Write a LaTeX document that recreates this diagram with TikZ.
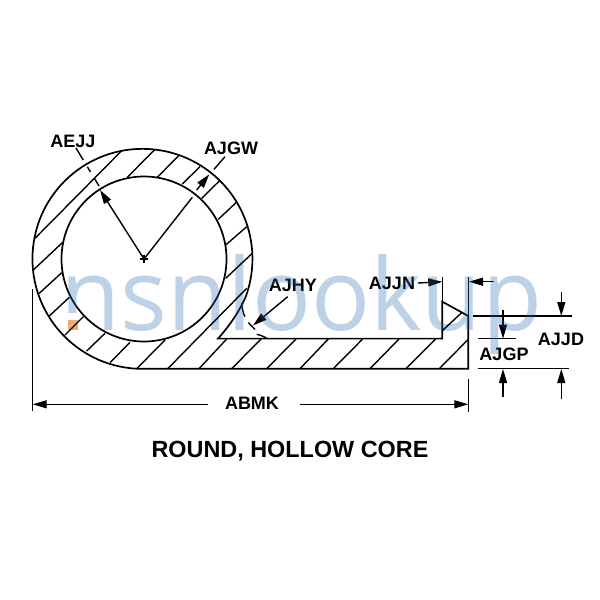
\documentclass[tikz,border=0pt]{standalone}
\usepackage{fontspec}
\setmainfont{Liberation Sans}
\newfontfamily\wmfont{Open Sans}
\usepackage{tikz}
\usetikzlibrary{positioning, arrows.meta}
\definecolor{wmblue}{RGB}{38,105,172}
\definecolor{wmorange}{RGB}{240,170,120}
\tikzset{
    profile/.style={line width=1.7pt},
    hatchline/.style={line width=1.4pt},
    dimline/.style={line width=1.4pt},
    dimarrow/.style={line width=1.4pt, -{Triangle[length=14pt, width=8pt]}},
    dimlabel/.style={font=\fontsize{18}{20}\selectfont\bfseries, inner sep=3pt},
}

\begin{document}
\begin{tikzpicture}[x=1pt, y=-1pt]
            \useasboundingbox (0, 0) rectangle (600, 600);

            \coordinate (centre) at (144, 259);
            \coordinate (heel) at (136.7, 368.7);
            \coordinate (troughL) at (218, 338.6);
            \coordinate (troughR) at (442.3, 338.6);
            \coordinate (lipTop) at (442.3, 301.7);
            \coordinate (lipTip) at (468.3, 316);
            \coordinate (toe) at (468.3, 368.7);

            % ring and strip
            \draw [profile] (centre) circle [radius=82.5pt];
            \draw [profile] (heel) arc [start angle=-93, end angle=-380, radius=110pt]
                .. controls (241, 308) and (232, 323) .. (troughL) -- (troughR) -- (lipTop) -- (lipTip) -- (toe) -- (heel);

            % labels
            \node [dimlabel] (AEJJ) at (73, 141) {AEJJ};
            \node [dimlabel] (AJGW) at (231, 148) {AJGW};
            \node [dimlabel] (AJHY) at (293, 285) {AJHY};
            \node [dimlabel] (AJJN) at (392, 283) {AJJN};
            \node [dimlabel] (AJJD) at (561, 339) {AJJD};
            \node [dimlabel] (AJGP) at (504, 354) {AJGP};
            \node [dimlabel] (ABMK) at (252, 403) {ABMK};
            \node [font=\fontsize{23.4}{26}\selectfont\bfseries] (title) at (290, 451) {ROUND, HOLLOW CORE};

            % radii
            \coordinate (boreEdge) at (100, 190);
            \coordinate (aejjTop) at (76, 148);
            \coordinate (aejjEnd) at (99, 186);
            \coordinate (wallIn) at (192.3, 197.3);
            \coordinate (wallStart) at (196.7, 190);
            \coordinate (wallTip) at (209.3, 174.3);
            \coordinate (wallOut) at (214, 169.3);
            \coordinate (wallLead) at (225, 156.7);
            \draw [dimarrow] (centre) -- (boreEdge);
            \draw [dimline, dash pattern=on 14pt off 8pt on 6pt off 7pt] (aejjTop) -- (aejjEnd);
            \draw [dimline] (centre) -- (wallIn);
            \draw [dimarrow] (wallStart) -- (wallTip);
            \draw [dimline] (wallOut) -- (wallLead);
            \draw [dimline] (140, 259) -- (148, 259) (144, 255) -- (144, 263);

            % fillet
            \coordinate (hyStart) at (287.7, 296.7);
            \coordinate (hyTip) at (253, 325.5);
            \coordinate (tickA) at (248.3, 322.5);
            \coordinate (tickB) at (255, 329.5);
            \draw [dimarrow] (hyStart) -- (hyTip);
            \draw [dimline] (tickA) -- (tickB);
            \draw [dimline] (241.7, 303) .. controls (242, 308) and (243, 313) .. (245, 316.7);
            \draw [dimline] (256.7, 334.3) .. controls (260, 335) and (264, 336.5) .. (266.7, 338.3);

            % lip width
            \coordinate (jnExt) at (442.3, 277);
            \coordinate (jnTip) at (442.3, 281.7);
            \coordinate (jrExt) at (468.3, 277);
            \coordinate (jrStart) at (494, 281.7);
            \coordinate (jrTip) at (469, 281.7);
            \draw [dimline] (jnExt) -- (lipTop);
            \draw [dimline] (jrExt) -- (lipTip);
            \draw [dimarrow] (AJJN.east) -- (jnTip);
            \draw [dimarrow] (jrStart) -- (jrTip);

            % heights
            \coordinate (jdLineL) at (473, 316);
            \coordinate (jdLineR) at (571.7, 316);
            \coordinate (jdStart) at (561.3, 291.7);
            \coordinate (jdTip) at (561.3, 316);
            \coordinate (gpLineL) at (478, 338.7);
            \coordinate (gpLineR) at (515.7, 338.7);
            \coordinate (gpStart) at (503, 310);
            \coordinate (gpTip) at (503, 338.7);
            \coordinate (baseL) at (478, 368.7);
            \coordinate (baseR) at (569, 368.7);
            \coordinate (gpUpStart) at (503, 396.7);
            \coordinate (gpUpTip) at (503, 369);
            \coordinate (jdUpStart) at (561.3, 399);
            \coordinate (jdUpTip) at (561.3, 369);
            \draw [dimline] (jdLineL) -- (jdLineR);
            \draw [dimline] (gpLineL) -- (gpLineR);
            \draw [dimline] (baseL) -- (baseR);
            \draw [dimarrow] (jdStart) -- (jdTip);
            \draw [dimarrow] (gpStart) -- (gpTip);
            \draw [dimarrow] (gpUpStart) -- (gpUpTip);
            \draw [dimarrow] (jdUpStart) -- (jdUpTip);

            % overall length
            \coordinate (mkExtLa) at (32.7, 289);
            \coordinate (mkExtLb) at (32.7, 411);
            \coordinate (mkExtRa) at (468.3, 379);
            \coordinate (mkExtRb) at (468.3, 412);
            \coordinate (mkBreakL) at (208, 404.3);
            \coordinate (mkBreakR) at (300, 404.3);
            \coordinate (mkTipL) at (32.7, 404.3);
            \coordinate (mkTipR) at (468.3, 404.3);
            \draw [dimline] (mkExtLa) -- (mkExtLb);
            \draw [dimline] (mkExtRa) -- (mkExtRb);
            \draw [dimarrow] (mkBreakL) -- (mkTipL);
            \draw [dimarrow] (mkBreakR) -- (mkTipR);

            % watermark
            \node [font=\wmfont\fontsize{100}{100}\selectfont, text=wmblue, opacity=0.3, anchor=base west, inner sep=0pt, xscale=0.98] (mark) at (60, 330) {nsnlookup};
            \fill [white] (67, 313) rectangle (79, 320);
            \fill [wmorange] (68.3, 320) rectangle (78.3, 330);

            % hatching
            \draw [hatchline]
                (35, 238.3) -- (121.7, 150.7)
                (127.3, 177.3) -- (155, 149.3)
                (157.3, 177.3) -- (178.3, 156)
                (182.3, 184) -- (200, 166.7)
                (201.7, 198.3) -- (219.3, 181)
                (218.3, 219.3) -- (236, 202.7)
                (225.7, 245) -- (246.7, 226.7)
                (225.7, 278.3) -- (252.3, 253.3)
                (33.3, 270) -- (62.3, 242.7)
                (39.3, 293.3) -- (61.7, 272.7)
                (49.3, 316) -- (69.3, 297.3)
                (65, 335) -- (83.3, 316.7)
                (86.7, 351) -- (105, 333.3)
                (110, 362.7) -- (130, 342.3)
                (136.7, 368.7) -- (165, 340)
                (167.7, 368.7) -- (246.7, 288.3)
                (199, 368.7) -- (226.7, 339)
                (231.7, 368.7) -- (261, 339)
                (266.7, 368.7) -- (296, 339)
                (300, 368.7) -- (328.3, 339)
                (333.3, 368.7) -- (362.7, 339)
                (370, 368.7) -- (399, 339)
                (406, 368.7) -- (435.7, 339)
                (439.3, 368.7) -- (468.3, 339.3)
                (442.3, 330.7) -- (461.7, 312.7);
        \end{tikzpicture}
\end{document}
